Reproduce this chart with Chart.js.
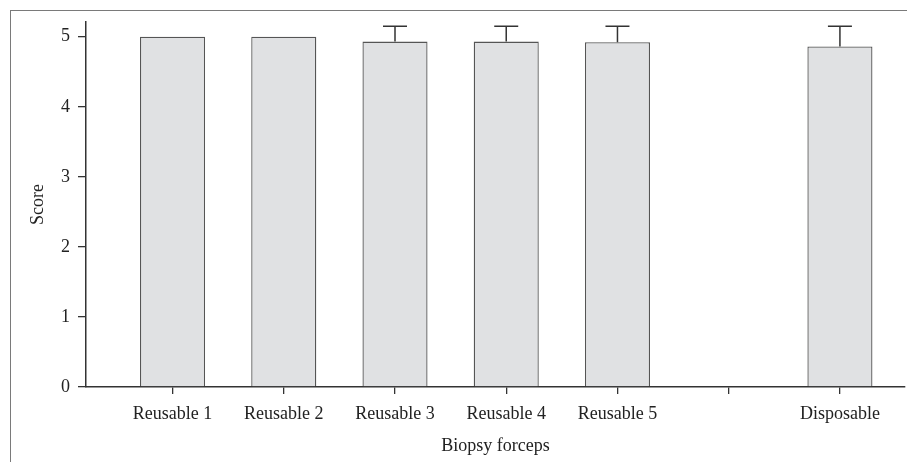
<!DOCTYPE html>
<html>
<head>
<meta charset="utf-8">
<script src="https://cdn.jsdelivr.net/npm/chart.js@4"></script>
<style>
html, body { margin: 0; padding: 0; background: #fff; }
#wrap { position: relative; width: 907px; height: 462px; overflow: hidden; }
#frame { position: absolute; left: 10px; top: 10px; width: 2000px; height: 2000px;
	border-left: 1.5px solid #7a7a7a; border-top: 1.5px solid #7a7a7a; }
#chart { position: absolute; left: 0; top: 0; }
</style>
</head>
<body>
<div id="wrap">
	<div id="frame"></div>
	<canvas id="chart" width="907" height="462"></canvas>
</div>
<script>
const categories = ["Reusable 1", "Reusable 2", "Reusable 3", "Reusable 4", "Reusable 5", "", "Disposable"]
const scores = [5.0, 5.0, 4.93, 4.93, 4.92, null, 4.86]
const scoreErrors = [0, 0, 0.22, 0.22, 0.23, 0, 0.29]
const yTicks = [0, 1, 2, 3, 4, 5]

const ink = "#333"
const font = { family: "'Liberation Serif', 'DejaVu Serif', serif", size: 18 }
Chart.defaults.color = "#222"

const barData = []
scores.forEach((v, i) => { if (v != null) barData.push({ x: i, y: v }) })

const errorBars = {
	id: "errorBars",
	afterDatasetsDraw(chart) {
		const ctx = chart.ctx
		const xs = chart.scales.x, ys = chart.scales.y
		ctx.save()
		ctx.strokeStyle = ink
		ctx.lineWidth = 1.5
		scores.forEach((v, i) => {
			if (v == null || !scoreErrors[i]) return
			const x = xs.getPixelForValue(i)
			const yBar = ys.getPixelForValue(v)
			const yTop = ys.getPixelForValue(v + scoreErrors[i])
			ctx.beginPath()
			ctx.moveTo(x, yBar)
			ctx.lineTo(x, yTop)
			ctx.moveTo(x - 12, yTop)
			ctx.lineTo(x + 12, yTop)
			ctx.stroke()
		})
		ctx.restore()
	}
}

new Chart(document.getElementById("chart").getContext("2d"), {
	type: "bar",
	data: {
		datasets: [{
			label: "Score",
			data: barData,
			backgroundColor: "#e0e1e3",
			borderColor: "#555",
			borderWidth: 1.3,
			categoryPercentage: 1,
			barPercentage: 0.585
		}]
	},
	options: {
		responsive: false,
		animation: false,
		layout: { padding: { left: 0, right: 2, top: 22, bottom: 0 } },
		plugins: { legend: { display: false }, tooltip: { enabled: false } },
		scales: {
			x: {
				type: "linear",
				offset: false,
				min: -0.778,
				max: 6.585,
				afterBuildTicks: (s) => { s.ticks = categories.map((c, i) => ({ value: i })) },
				afterFit: (s) => { s.height = 75 },
				ticks: {
					font: font,
					padding: 9,
					autoSkip: false,
					maxRotation: 0,
					callback: (v) => categories[v]
				},
				grid: { offset: false, drawOnChartArea: false, drawTicks: true, tickLength: 7, color: ink, lineWidth: 1.3 },
				border: { color: ink, width: 1.5 },
				title: { display: true, text: "Biopsy forceps", font: font, padding: { top: 0, bottom: 5 } }
			},
			y: {
				min: 0,
				max: 5.21,
				afterBuildTicks: (s) => { s.ticks = yTicks.map((v) => ({ value: v })) },
				afterFit: (s) => { s.width = 86 },
				ticks: { font: font, padding: 8 },
				grid: { drawOnChartArea: false, drawTicks: true, tickLength: 8, color: ink, lineWidth: 1.3 },
				border: { color: ink, width: 1.5 },
				title: { display: true, text: "Score", font: font, padding: { top: 27, bottom: 0 } }
			}
		}
	},
	plugins: [errorBars]
})
</script>
</body>
</html>
